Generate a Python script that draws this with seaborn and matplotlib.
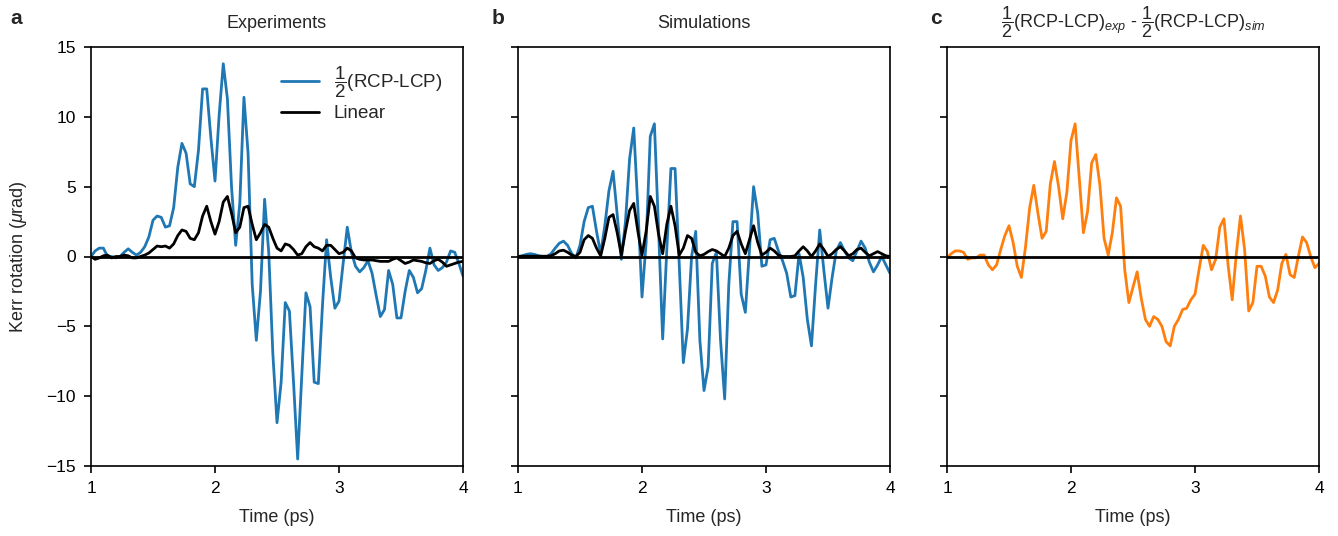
import numpy as np
import pandas as pd
import matplotlib
matplotlib.use('Agg')
import matplotlib.pyplot as plt
import seaborn as sns

# time grid (ps), sampled every 1/30 ps
time_ps = np.round(np.linspace(1, 4, 91), 4)

# panel a: experiments
exp_circ = [0.0, 0.4, 0.6, 0.6, 0.0, 0.0, -0.1, 0.0, 0.3, 0.55,
            0.3, 0.1, 0.3, 0.7, 1.4, 2.6, 2.9, 2.8, 2.1, 2.2,
            3.5, 6.4, 8.1, 7.4, 5.2, 5.0, 7.6, 12.0, 12.0, 8.5,
            5.4, 10.1, 13.8, 11.3, 5.0, 0.8, 3.8, 11.4, 7.4, -2.0,
            -6.0, -2.5, 4.1, 0.3, -7.0, -11.9, -9.0, -3.3, -3.9, -9.0,
            -14.5, -8.5, -2.6, -3.6, -9.0, -9.1, -3.5, 1.2, -1.5, -3.7,
            -3.2, -0.5, 2.1, 0.3, -0.7, -1.1, -0.8, -0.3, -1.2, -2.8,
            -4.3, -3.8, -1.0, -2.0, -4.4, -4.4, -2.5, -1.0, -1.5, -2.6,
            -2.3, -1.0, 0.6, -0.6, -1.0, -0.8, -0.4, 0.4, 0.3, -0.5,
            -1.4]
exp_lin = [0.0, -0.2, -0.1, 0.05, 0.1, -0.1, 0.0, 0.0, 0.1, 0.05,
           -0.1, -0.1, 0.0, 0.1, 0.25, 0.5, 0.75, 0.7, 0.75, 0.6,
           0.9, 1.5, 1.9, 1.8, 1.3, 1.2, 1.7, 2.9, 3.6, 2.5,
           1.6, 2.5, 3.9, 4.3, 3.1, 1.7, 2.1, 3.5, 3.6, 2.3,
           1.2, 1.7, 2.3, 2.1, 1.3, 0.6, 0.4, 0.9, 0.8, 0.5,
           0.1, 0.2, 0.7, 1.0, 0.7, 0.6, 0.4, 0.8, 0.8, 0.5,
           0.2, 0.3, 0.6, 0.4, -0.1, -0.2, -0.25, -0.25, -0.25, -0.3,
           -0.35, -0.35, -0.35, -0.2, -0.1, -0.3, -0.5, -0.4, -0.25, -0.3,
           -0.35, -0.45, -0.5, -0.3, -0.2, -0.4, -0.7, -0.6, -0.5, -0.4,
           -0.35]

# panel b: simulations
sim_circ = [0.0, 0.05, 0.15, 0.2, 0.15, 0.05, 0.0, 0.0, 0.2, 0.6,
            0.95, 1.1, 0.8, 0.2, -0.1, 0.8, 2.5, 3.5, 3.6, 1.8,
            0.2, 2.2, 4.7, 6.1, 3.0, -0.2, 2.5, 7.0, 9.2, 3.5,
            -2.9, 1.0, 8.6, 9.5, 2.0, -5.9, 0.5, 6.3, 6.3, -0.5,
            -7.6, -5.2, 0.0, 1.8, -6.0, -9.6, -7.9, -0.5, 0.3, -6.0,
            -10.2, -2.0, 2.5, 2.5, -2.7, -4.0, 0.5, 5.0, 3.1, -0.7,
            -0.6, 1.2, 1.3, 0.4, -0.3, -1.2, -2.9, -2.8, 0.2, -1.5,
            -4.5, -6.4, -2.0, 1.9, -1.0, -3.7, -1.5, 0.4, 1.0, 0.4,
            -0.1, -0.3, 0.4, 1.1, 0.6, -0.4, -1.1, -0.6, 0.0, -0.6,
            -1.2]
sim_lin = [0.0, 0.02, 0.02, 0.02, 0.02, 0.02, 0.02, 0.02, 0.05, 0.2,
           0.4, 0.45, 0.3, 0.1, 0.0, 0.3, 1.2, 1.5, 1.3, 0.6,
           0.05, 1.3, 2.8, 3.0, 1.7, 0.1, 1.8, 3.3, 3.8, 1.8,
           0.1, 1.8, 4.3, 3.6, 1.6, 0.2, 2.3, 3.6, 2.2, 0.1,
           0.6, 1.5, 1.3, 0.3, 0.05, 0.15, 0.35, 0.5, 0.4, 0.2,
           0.0, 0.6, 1.5, 1.8, 0.9, 0.2, 1.2, 2.2, 1.0, 0.1,
           0.3, 0.6, 0.4, 0.1, 0.0, 0.0, 0.0, 0.05, 0.4, 0.7,
           0.4, 0.0, 0.4, 0.9, 0.5, 0.0, 0.2, 0.5, 0.7, 0.4,
           0.05, 0.2, 0.5, 0.6, 0.3, 0.05, 0.2, 0.35, 0.2, 0.05,
           0.0]

# panel c: difference exp - sim
diff_circ = [-0.1, 0.2, 0.4, 0.4, 0.3, -0.2, -0.1, -0.1, 0.1, 0.1,
             -0.6, -0.95, -0.6, 0.5, 1.5, 2.2, 1.0, -0.7, -1.5, 0.7,
             3.5, 5.1, 3.1, 1.3, 1.8, 5.2, 6.8, 5.0, 2.7, 4.6,
             8.3, 9.5, 5.6, 1.7, 3.2, 6.7, 7.3, 5.1, 1.3, 0.1,
             1.7, 4.2, 3.6, -0.95, -3.3, -2.2, -1.1, -3.0, -4.5, -5.0,
             -4.3, -4.5, -5.0, -6.1, -6.4, -5.0, -4.5, -3.8, -3.7, -3.1,
             -2.7, -0.9, 0.8, 0.35, -0.95, -0.2, 2.1, 2.7, -0.6, -3.1,
             0.2, 2.9, 0.5, -3.9, -3.3, -0.7, -0.7, -1.4, -2.9, -3.3,
             -2.4, -0.5, 0.15, -1.3, -1.5, 0.0, 1.4, 1.0, 0.0, -0.8,
             -0.5]

titles = ['Experiments', 'Simulations',
          r'$\dfrac{1}{2}$(RCP-LCP)$_{exp}$ - $\dfrac{1}{2}$(RCP-LCP)$_{sim}$']
letters = ['a', 'b', 'c']
letter_x = [10, 492, 930]

sns.set_style('ticks')
plt.rcParams['font.family'] = ['Liberation Sans', 'DejaVu Sans']
plt.rcParams['mathtext.fontset'] = 'custom'
plt.rcParams['mathtext.rm'] = 'Liberation Sans'
plt.rcParams['mathtext.it'] = 'Liberation Sans:italic'
plt.rcParams['mathtext.bf'] = 'Liberation Sans:bold'

blue = '#1f77b4'
orange = '#ff7f0e'

fig = plt.figure(figsize=(13.38, 5.36), dpi=100)
lefts = [91 / 1338, 518 / 1338, 947 / 1338]
axes = [fig.add_axes([l, 1 - 466 / 536, 372 / 1338, 419 / 536]) for l in lefts]

df_a = pd.DataFrame({'t': time_ps, 'circ': exp_circ, 'lin': exp_lin})
df_b = pd.DataFrame({'t': time_ps, 'circ': sim_circ, 'lin': sim_lin})
df_c = pd.DataFrame({'t': time_ps, 'diff': diff_circ})

ax = axes[0]
sns.lineplot(data=df_a, x='t', y='circ', color=blue, lw=2, ax=ax,
             label=r'$\dfrac{1}{2}$(RCP-LCP)')
sns.lineplot(data=df_a, x='t', y='lin', color='black', lw=2, ax=ax, label='Linear')
ax.legend(loc='upper right', frameon=False, fontsize=13.5, handlelength=2.0,
          labelspacing=0.3, bbox_to_anchor=(0.99, 1.0))

ax = axes[1]
sns.lineplot(data=df_b, x='t', y='circ', color=blue, lw=2, ax=ax)
sns.lineplot(data=df_b, x='t', y='lin', color='black', lw=2, ax=ax)

ax = axes[2]
sns.lineplot(data=df_c, x='t', y='diff', color=orange, lw=2, ax=ax)

for k, ax in enumerate(axes):
    ax.axhline(0, color='black', lw=2, zorder=3)
    ax.set_xlim(1, 4)
    ax.set_ylim(-15, 15)
    ax.set_xticks([1, 2, 3, 4])
    ax.set_yticks(np.arange(-15, 16, 5))
    ax.set_xlabel('Time (ps)', fontsize=13, labelpad=9)
    ax.set_ylabel('')
    ax.set_title(titles[k], fontsize=13, pad=14)
    ax.tick_params(labelsize=12.5, direction='out', length=5, width=1.2,
                   colors='black', pad=6)
    for sp in ax.spines.values():
        sp.set_visible(True)
        sp.set_linewidth(1.2)
        sp.set_color('black')
    if k > 0:
        ax.set_yticklabels([])
    fig.text(letter_x[k] / 1338, 1 - 18 / 536, letters[k], fontsize=15, fontweight='bold',
             ha='left', va='center')

axes[0].set_ylabel(r'Kerr rotation ($\mu$rad)', fontsize=13, labelpad=12)

plt.savefig('out.png', dpi=100)
